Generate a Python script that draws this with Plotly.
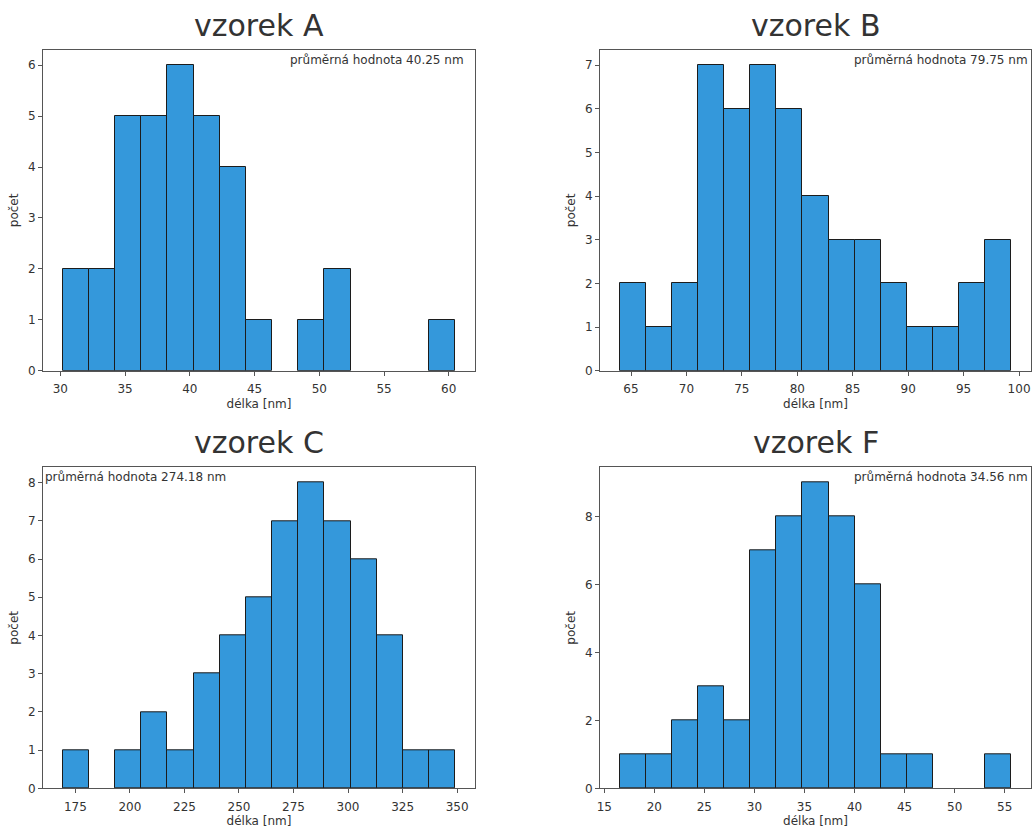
import numpy as np
import plotly.graph_objects as go

# Length histograms (15 bins each) for four samples
samples = ["vzorek A", "vzorek B", "vzorek C", "vzorek F"]

counts_a = [2, 2, 5, 5, 6, 5, 4, 1, 0, 1, 2, 0, 0, 0, 1]
counts_b = [2, 1, 2, 7, 6, 7, 6, 4, 3, 3, 2, 1, 1, 2, 3]
counts_c = [1, 0, 1, 2, 1, 3, 4, 5, 7, 8, 7, 6, 4, 1, 1]
counts_f = [1, 1, 2, 3, 2, 7, 8, 9, 8, 6, 1, 1, 0, 0, 1]

# smallest and largest measured length per sample (histogram range)
range_a = (30.18, 60.51)
range_b = (63.97, 99.31)
range_c = (169.15, 349.2)
range_f = (16.53, 55.67)

means = [40.25, 79.75, 274.18, 34.56]

x_ticks_a = [30, 35, 40, 45, 50, 55, 60]
x_ticks_b = [65, 70, 75, 80, 85, 90, 95, 100]
x_ticks_c = [175, 200, 225, 250, 275, 300, 325, 350]
x_ticks_f = [15, 20, 25, 30, 35, 40, 45, 50, 55]
y_ticks_a = [0, 1, 2, 3, 4, 5, 6]
y_ticks_b = [0, 1, 2, 3, 4, 5, 6, 7]
y_ticks_c = [0, 1, 2, 3, 4, 5, 6, 7, 8]
y_ticks_f = [0, 2, 4, 6, 8]

W, H = 1032, 828
BAR = "#3498db"
EDGE = "#1c1c1c"
TXT = "#333333"
SPINE = "#555555"
FONT = "DejaVu Sans"

# axes boxes in pixels: left, right, top, bottom
boxes = [
    (43, 475, 50, 370.7),
    (600, 1031, 50, 370.7),
    (43, 475, 467.3, 788.3),
    (600, 1031, 467.3, 788.3),
]

panels = [
    (counts_a, range_a, x_ticks_a, y_ticks_a),
    (counts_b, range_b, x_ticks_b, y_ticks_b),
    (counts_c, range_c, x_ticks_c, y_ticks_c),
    (counts_f, range_f, x_ticks_f, y_ticks_f),
]

fig = go.Figure()
layout = dict(
    width=W, height=H,
    margin=dict(l=0, r=0, t=0, b=0),
    paper_bgcolor="white", plot_bgcolor="white",
    showlegend=False,
    font=dict(family=FONT, size=12, color=TXT),
    bargap=0,
)
annotations = []

for i, ((cnt, (lo, hi), xt, yt), (l, r, t, b)) in enumerate(zip(panels, boxes)):
    n = i + 1
    xa = "x" if n == 1 else f"x{n}"
    ya = "y" if n == 1 else f"y{n}"
    edges = np.linspace(lo, hi, len(cnt) + 1)
    centers = (edges[:-1] + edges[1:]) / 2
    width = edges[1] - edges[0]
    # empty bins get no outline
    line_w = [1 if c > 0 else 0 for c in cnt]
    fig.add_trace(go.Bar(
        x=centers, y=cnt, width=width,
        marker=dict(color=BAR, line=dict(color=EDGE, width=line_w)),
        xaxis=xa, yaxis=ya,
    ))
    span = hi - lo
    ymax = max(cnt) * 1.05
    axis_common = dict(
        showline=True, mirror=True, linecolor=SPINE, linewidth=1,
        ticks="outside", ticklen=4, tickcolor=SPINE, tickwidth=1,
        showgrid=False, zeroline=False, automargin=False,
        tickfont=dict(family=FONT, size=12, color=TXT),
    )
    layout["xaxis" if n == 1 else f"xaxis{n}"] = dict(
        axis_common,
        domain=[l / W, r / W],
        anchor=ya,
        range=[lo - 0.05 * span, hi + 0.05 * span],
        tickvals=xt,
        ticklabelstandoff=3,
        title=dict(text="délka [nm]", font=dict(size=12, color=TXT), standoff=4),
    )
    layout["yaxis" if n == 1 else f"yaxis{n}"] = dict(
        axis_common,
        domain=[1 - b / H, 1 - t / H],
        anchor=xa,
        range=[0, ymax],
        tickvals=yt,
        title=dict(text="počet", font=dict(size=12, color=TXT), standoff=6),
    )
    # panel title
    annotations.append(dict(
        text=samples[i], xref="paper", yref="paper",
        x=(l + r) / 2 / W, y=1 - (t - 25) / H,
        xanchor="center", yanchor="middle", showarrow=False,
        font=dict(family=FONT, size=30, color=TXT),
    ))
    # mean value label
    label = f"průměrná hodnota {means[i]:.2f} nm"
    if i == 2:
        annotations.append(dict(
            text=label, xref="paper", yref="paper",
            x=(l + 0) / W, y=1 - (t + 10) / H,
            xanchor="left", yanchor="middle", showarrow=False,
            font=dict(family=FONT, size=12, color=TXT),
        ))
    else:
        annotations.append(dict(
            text=label, xref="paper", yref="paper",
            x=(r - (9 if i == 0 else 1)) / W, y=1 - (t + 10) / H,
            xanchor="right", yanchor="middle", showarrow=False,
            font=dict(family=FONT, size=12, color=TXT),
        ))

layout["annotations"] = annotations
fig.update_layout(**layout)
fig.write_html("out.html")
